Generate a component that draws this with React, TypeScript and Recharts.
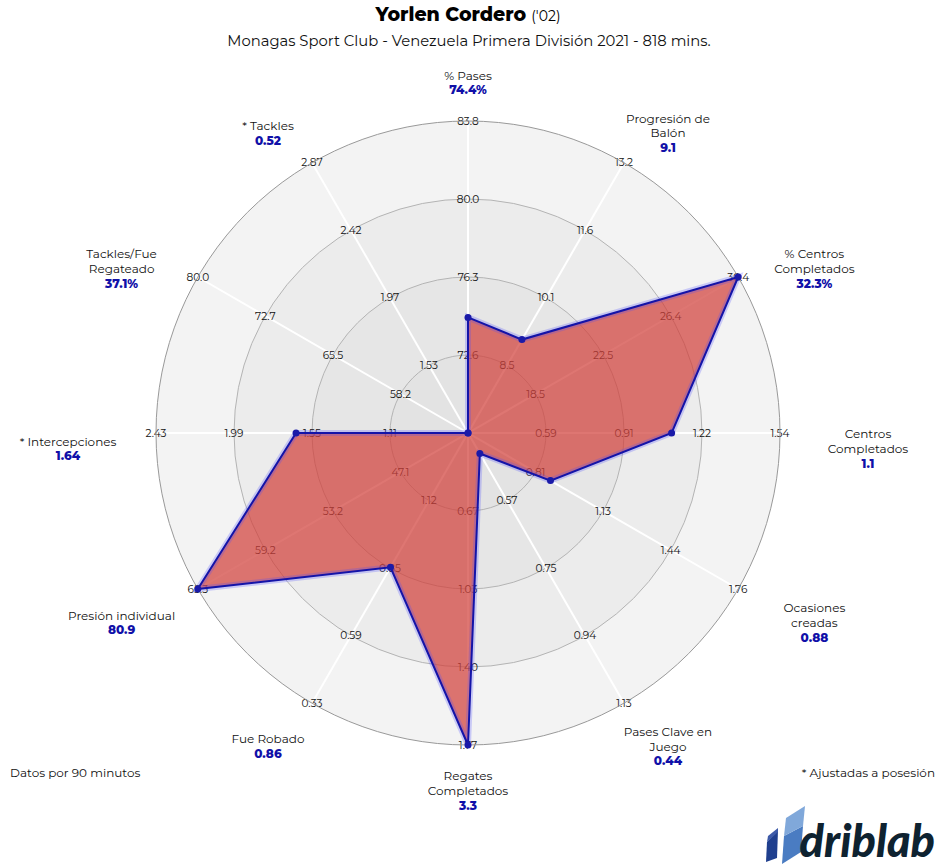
import React from "react";
import { RadarChart, Radar, PolarGrid, PolarAngleAxis, PolarRadiusAxis } from "recharts";

// metric names, clockwise from the top
const categories = [
  "% Pases",
  "Progresión de\nBalón",
  "% Centros\nCompletados",
  "Centros\nCompletados",
  "Ocasiones\ncreadas",
  "Pases Clave en\nJuego",
  "Regates\nCompletados",
  "Fue Robado",
  "Presión individual",
  "* Intercepciones",
  "Tackles/Fue\nRegateado",
  "* Tackles",
];

const valueLabels = ["74.4%", "9.1", "32.3%", "1.1", "0.88", "0.44", "3.3", "0.86", "80.9", "1.64", "37.1%", "0.52"];
const playerValues = [74.4, 9.1, 32.3, 1.1, 0.88, 0.44, 3.3, 0.86, 80.9, 1.64, 37.1, 0.52];

// tick labels on each spoke, inner ring -> outer ring
const ringTicks: string[][] = [
  ["72.6", "76.3", "80.0", "83.8"],
  ["8.5", "10.1", "11.6", "13.2"],
  ["18.5", "22.5", "26.4", "30.4"],
  ["0.59", "0.91", "1.22", "1.54"],
  ["0.81", "1.13", "1.44", "1.76"],
  ["0.57", "0.75", "0.94", "1.13"],
  ["0.67", "1.03", "1.40", "1.77"],
  ["1.12", "0.85", "0.59", "0.33"],
  ["47.1", "53.2", "59.2", "65.3"],
  ["1.11", "1.55", "1.99", "2.43"],
  ["58.2", "65.5", "72.7", "80.0"],
  ["1.53", "1.97", "2.42", "2.87"],
];

const CX = 468;
const CY = 433;
const OUTER = 312;
const FONT = "Montserrat, 'Open Sans', sans-serif";

// map a raw value onto the shared 0..4 ring scale of its spoke
function toRing(v: number, ticks: string[]) {
  const t1 = parseFloat(ticks[0]);
  const t4 = parseFloat(ticks[3]);
  const step = (t4 - t1) / 3;
  const p = 1 + (v - t1) / step;
  return Math.max(0, Math.min(4, p));
}

const data = categories.map((name, i) => ({
  name,
  pos: toRing(playerValues[i], ringTicks[i]),
}));

function AxisLabel(props: any) {
  const { payload, index } = props;
  const cx = props.cx ?? CX;
  const cy = props.cy ?? CY;
  const a = (payload.coordinate * Math.PI) / 180;
  const x = cx + 400 * Math.cos(a);
  const yc = cy - 354 * Math.sin(a) + 3.5 + 12 * Math.cos(a) ** 2;
  const lines = categories[index].split("\n");
  const n = lines.length;
  const lh = 14.7;
  return (
    <g>
      {lines.map((l, j) => (
        <text
          key={j}
          x={x}
          y={yc + (j - n / 2) * lh}
          textAnchor="middle"
          dominantBaseline="central"
          fontSize={12}
          fill="#111"
          fontFamily={FONT}
        >
          {l}
        </text>
      ))}
      <text
        x={x}
        y={yc + (n - n / 2) * lh}
        textAnchor="middle"
        dominantBaseline="central"
        fontSize={12}
        fontWeight={800}
        fill="#1010a8"
        fontFamily={FONT}
      >
        {valueLabels[index]}
      </text>
    </g>
  );
}

const spokeTick = (i: number) => (props: any) => {
  const v = props.payload?.value;
  if (!v) return <g />;
  return (
    <text
      x={props.x}
      y={props.y}
      textAnchor="middle"
      dominantBaseline="central"
      fontSize={10.5}
      fill="#111"
      fontFamily={FONT}
    >
      {ringTicks[i][v - 1]}
    </text>
  );
};

export default function App() {
  return (
    <div style={{ position: "absolute", left: 0, top: 0, width: 936, height: 868, background: "#fff" }}>
      <svg width={936} height={868} style={{ position: "absolute", left: 0, top: 0 }}>
        <circle cx={CX} cy={CY} r={312} fill="#f3f3f3" />
        <circle cx={CX} cy={CY} r={234} fill="#ececec" />
        <circle cx={CX} cy={CY} r={156} fill="#e6e6e6" />
        <circle cx={CX} cy={CY} r={78} fill="#e3e3e3" />

        <text x={468} y={21} textAnchor="middle" fontFamily={FONT} fill="#000">
          <tspan fontSize={19} fontWeight={800}>Yorlen Cordero</tspan>
          <tspan fontSize={14} dx={5}>('02)</tspan>
        </text>
        <text x={469} y={46} textAnchor="middle" fontFamily={FONT} fontSize={14.8} fill="#111">
          Monagas Sport Club - Venezuela Primera División 2021 - 818 mins.
        </text>
        <text x={10} y={777} fontFamily={FONT} fontSize={12} fill="#111">
          Datos por 90 minutos
        </text>
        <text x={935} y={777} textAnchor="end" fontFamily={FONT} fontSize={12} fill="#111">
          * Ajustadas a posesión
        </text>

        {/* logo */}
        <polygon points="766,862 767,842 778,830 777,858" fill="#1f3f8e" />
        <polygon points="767,842 768,836 778,828 778,832" fill="#3d5aa8" />
        <polygon points="782,864 784,836 803,826 801,852" fill="#4a7cc2" />
        <polygon points="784,836 786,818 805,806 803,826" fill="#80a8da" />
        <text
          x={935}
          y={857}
          textAnchor="end"
          fontFamily="Lato, sans-serif"
          fontStyle="italic"
          fontWeight={900}
          fontSize={45}
          fill="#0e2230"
        >
          driblab
        </text>
      </svg>

      <div style={{ position: "absolute", left: 0, top: 0 }}>
        <RadarChart
          width={936}
          height={868}
          data={data}
          cx={CX}
          cy={CY}
          outerRadius={OUTER}
          margin={{ top: 0, right: 0, bottom: 0, left: 0 }}
        >
          <PolarGrid gridType="circle" radialLines={false} polarRadius={[78, 156, 234]} stroke="#b4b4b4" />
          <PolarAngleAxis
            dataKey="name"
            axisLineType="circle"
            axisLine={{ stroke: "#999" }}
            tickLine={false}
            tick={AxisLabel}
          />
          {categories.map((_, i) => (
            <PolarRadiusAxis
              key={`ax-${i}`}
              radiusAxisId={i}
              angle={90 - 30 * i}
              domain={[0, 4]}
              tickCount={5}
              type="number"
              axisLine={{ stroke: "#fff", strokeWidth: 2 }}
              tickLine={false}
              tick={spokeTick(i)}
              zIndex={-50}
            />
          ))}
          {/* invisible series so every spoke axis is registered */}
          {categories.map((_, i) =>
            i === 0 ? null : (
              <Radar
                key={`reg-${i}`}
                radiusAxisId={i}
                dataKey="pos"
                stroke="none"
                fill="none"
                fillOpacity={0}
                dot={false}
                legendType="none"
                isAnimationActive={false}
              />
            )
          )}
          <Radar
            dataKey="pos"
            stroke="none"
            fill="#d1413c"
            fillOpacity={0.72}
            dot={false}
            isAnimationActive={false}
          />
          <Radar
            dataKey="pos"
            stroke="#4b4bff"
            strokeOpacity={0.25}
            strokeWidth={6}
            fill="none"
            dot={false}
            isAnimationActive={false}
          />
          <Radar
            dataKey="pos"
            stroke="#1414a8"
            strokeWidth={2}
            fill="none"
            dot={{ r: 3.5, fill: "#1a1aa8", stroke: "none" }}
            isAnimationActive={false}
          />
        </RadarChart>
      </div>
    </div>
  );
}
